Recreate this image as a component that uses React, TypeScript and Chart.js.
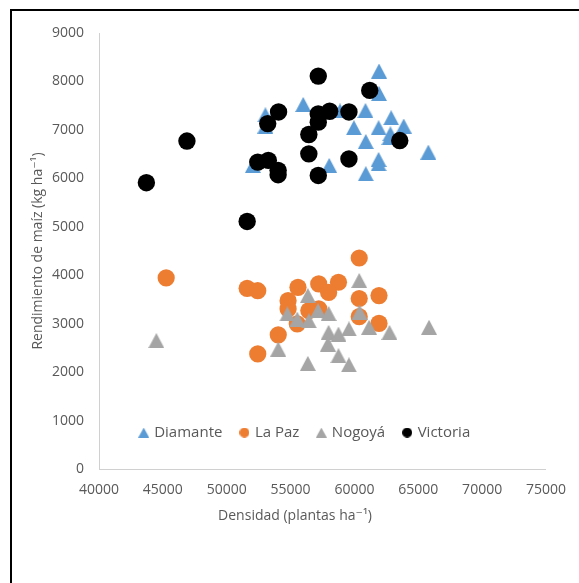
import React, { useEffect, useRef } from 'react';
import { Chart, registerables } from 'chart.js';

Chart.register(...registerables);

// ---- data ----
const seriesNames = ['Diamante', 'La Paz', 'Nogoyá', 'Victoria'];
const seriesColors = ['#5B9BD5', '#ED7D31', '#A5A5A5', '#000000'];

const diamanteX = [61925, 61925, 55990, 58875, 60865, 62875, 63860, 59960, 61895, 62820, 62745, 60890, 65790, 61895, 61895, 58025, 60890, 53030, 53030, 52045];
const diamanteY = [8215, 7750, 7525, 7390, 7400, 7250, 7080, 7045, 7045, 6920, 6840, 6760, 6540, 6390, 6300, 6265, 6095, 7310, 7080, 6265];

const lapazX = [45260, 51600, 52430, 60375, 55580, 57205, 58750, 57980, 60375, 61925, 54805, 54805, 56430, 57205, 55525, 60375, 61925, 54035, 52430];
const lapazY = [3945, 3730, 3680, 4355, 3750, 3820, 3855, 3645, 3520, 3580, 3475, 3305, 3270, 3305, 2995, 3145, 3005, 2770, 2375];

const nogoyaX = [44490, 60375, 56355, 54750, 55525, 56430, 57150, 57980, 60400, 57980, 58750, 59570, 61150, 62745, 57925, 58750, 59570, 56355, 54035, 65840];
const nogoyaY = [2650, 3890, 3580, 3200, 3095, 3060, 3270, 3210, 3240, 2820, 2785, 2890, 2925, 2820, 2580, 2340, 2150, 2180, 2475, 2925];

const victoriaX = [57170, 61200, 54060, 53210, 57170, 58060, 59570, 57170, 56430, 63550, 46885, 56430, 59570, 52430, 53260, 54025, 54025, 57170, 43710, 51600];
const victoriaY = [8110, 7815, 7370, 7130, 7330, 7385, 7370, 7160, 6905, 6780, 6770, 6505, 6400, 6335, 6370, 6165, 6075, 6060, 5910, 5110];

const xMin = 40000;
const xMax = 75000;
const xStep = 5000;
const yMin = 0;
const yMax = 9000;
const yStep = 1000;

const xTitle = 'Densidad (plantas ha\u207B\u00B9)';
const yTitle = 'Rendimiento de maíz (kg ha\u207B\u00B9)';

const FONT = "'Open Sans', 'DejaVu Sans', sans-serif";
const TEXT = '#595959';

function toPoints(xs: number[], ys: number[]) {
  return xs.map((x, i) => ({ x, y: ys[i] }));
}

function makeTriangle(color: string, w: number, h: number) {
  const c = document.createElement('canvas');
  c.width = w;
  c.height = h;
  const g = c.getContext('2d')!;
  g.fillStyle = color;
  g.beginPath();
  g.moveTo(w / 2, 0);
  g.lineTo(w, h);
  g.lineTo(0, h);
  g.closePath();
  g.fill();
  return c;
}

function makeCircle(color: string, d: number) {
  const c = document.createElement('canvas');
  c.width = d;
  c.height = d;
  const g = c.getContext('2d')!;
  g.fillStyle = color;
  g.beginPath();
  g.arc(d / 2, d / 2, d / 2, 0, Math.PI * 2);
  g.fill();
  return c;
}

export default function App() {
  const ref = useRef<HTMLCanvasElement | null>(null);

  useEffect(() => {
    if (!ref.current) return;
    const mainTriBlue = makeTriangle(seriesColors[0], 16, 15);
    const mainTriGray = makeTriangle(seriesColors[2], 16, 15);
    const legendMarkers = [
      makeTriangle(seriesColors[0], 11, 10),
      makeCircle(seriesColors[1], 10),
      makeTriangle(seriesColors[2], 11, 10),
      makeCircle(seriesColors[3], 10),
    ];

    const excelLayout = {
      id: 'excelLayout',
      afterLayout(chart: any) {
        const lg = chart.legend;
        if (!lg || !lg.lineWidths) return;
        const pad = lg.options.labels.padding;
        const lw = lg.lineWidths[0];
        const ca = chart.chartArea;
        const startX = ca.left + 41.7;
        lg.left = startX - pad;
        lg.right = lg.left + pad + lw;
        lg.width = lg.right - lg.left;
        const cy = ca.bottom - 36.4;
        lg.top = cy - pad - 7.5;
        lg.height = 60;
        lg.bottom = lg.top + lg.height;
      },
      afterDraw(chart: any) {
        const { ctx, chartArea } = chart;
        ctx.save();
        ctx.font = `14px ${FONT}`;
        ctx.fillStyle = TEXT;
        ctx.textAlign = 'center';
        ctx.textBaseline = 'middle';
        ctx.fillText(xTitle, (chartArea.left + chartArea.right) / 2 - 27.5, chartArea.bottom + 47);
        ctx.restore();
      },
    };

    const chart = new Chart(ref.current, {
      type: 'scatter',
      data: {
        datasets: [
          {
            label: seriesNames[0],
            data: toPoints(diamanteX, diamanteY),
            backgroundColor: seriesColors[0],
            borderColor: seriesColors[0],
            pointStyle: mainTriBlue as any,
            pointRadius: 8,
            pointBorderWidth: 0,
            order: 4,
          },
          {
            label: seriesNames[1],
            data: toPoints(lapazX, lapazY),
            backgroundColor: seriesColors[1],
            borderColor: seriesColors[1],
            pointStyle: 'circle',
            pointRadius: 8.6,
            pointBorderWidth: 0,
            order: 3,
          },
          {
            label: seriesNames[2],
            data: toPoints(nogoyaX, nogoyaY),
            backgroundColor: seriesColors[2],
            borderColor: seriesColors[2],
            pointStyle: mainTriGray as any,
            pointRadius: 8,
            pointBorderWidth: 0,
            order: 2,
          },
          {
            label: seriesNames[3],
            data: toPoints(victoriaX, victoriaY),
            backgroundColor: seriesColors[3],
            borderColor: seriesColors[3],
            pointStyle: 'circle',
            pointRadius: 8.7,
            pointBorderWidth: 0,
            order: 1,
          },
        ],
      },
      options: {
        animation: false,
        responsive: false,
        maintainAspectRatio: false,
        devicePixelRatio: 1,
        layout: { padding: { left: 0, right: 27, top: 33, bottom: 0 } },
        plugins: {
          tooltip: { enabled: false },
          legend: {
            display: true,
            position: 'bottom',
            maxHeight: 1,
            labels: {
              usePointStyle: true,
              boxWidth: 6,
              boxHeight: 6,
              padding: 19,
              color: TEXT,
              font: { family: FONT, size: 15 },
              generateLabels: (chart: any) =>
                chart.data.datasets.map((ds: any, i: number) => ({
                  text: ds.label,
                  fillStyle: ds.backgroundColor,
                  strokeStyle: ds.backgroundColor,
                  lineWidth: 0,
                  pointStyle: legendMarkers[i],
                  hidden: false,
                  datasetIndex: i,
                  fontColor: TEXT,
                })),
            },
          },
        },
        scales: {
          x: {
            type: 'linear',
            min: xMin,
            max: xMax,
            afterFit: (s: any) => {
              s.height = 113;
            },
            ticks: {
              stepSize: xStep,
              color: TEXT,
              padding: 13,
              maxRotation: 0,
              font: { family: FONT, size: 14 },
              callback: (v: any) => String(v),
            },
            grid: { display: true, color: 'transparent', drawTicks: false },
            border: { display: true, color: '#D0D0D0', width: 1 },
            title: { display: false },
          },
          y: {
            type: 'linear',
            min: yMin,
            max: yMax,
            afterFit: (s: any) => {
              s.width = 99;
            },
            ticks: {
              stepSize: yStep,
              color: TEXT,
              padding: 15,
              font: { family: FONT, size: 14 },
              callback: (v: any) => String(v),
            },
            grid: { display: true, color: 'transparent', drawTicks: false },
            border: { display: true, color: '#D0D0D0', width: 1 },
            title: {
              display: true,
              text: yTitle,
              color: TEXT,
              font: { family: FONT, size: 14 },
              padding: { top: 30, bottom: 0 },
            },
          },
        },
      },
      plugins: [excelLayout],
    } as any);

    return () => chart.destroy();
  }, []);

  return (
    <div style={{ position: 'fixed', left: 0, top: 0, width: 579, height: 583, overflow: 'hidden', background: '#fff' }}>
      <div
        style={{
          position: 'absolute',
          left: 10,
          top: 9,
          width: 700,
          height: 700,
          border: '2px solid #000',
          boxSizing: 'border-box',
        }}
      />
      <canvas ref={ref} width={579} height={583} style={{ position: 'absolute', left: 0, top: 0, width: 579, height: 583 }} />
    </div>
  );
}
